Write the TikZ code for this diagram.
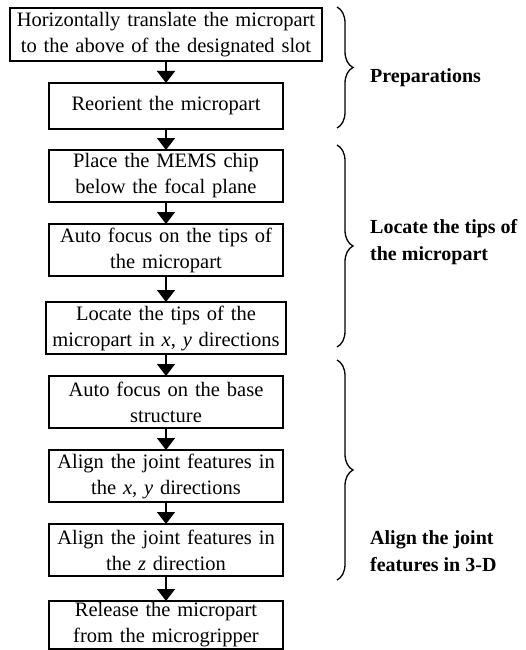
\documentclass[tikz,border=0pt]{standalone}
\usepackage{fontspec}
\setmainfont{Liberation Serif}
\usetikzlibrary{arrows.meta,positioning,decorations.pathreplacing}

\begin{document}
\begin{tikzpicture}[node distance=22pt, auto]
        \tikzstyle{block} = [rectangle, draw, line width=1.3pt, outer sep=0pt, text width=228pt, inner xsep=3pt, inner ysep=1pt, minimum height=52pt, align=center, font=\fontsize{20.5}{26}\selectfont]
        \tikzstyle{arrow} = [-{Triangle[width=18pt,length=12pt]}, line width=1.3pt]
        \tikzstyle{group} = [decorate, decoration={brace, amplitude=16pt}, line width=1.3pt]
        \tikzstyle{grouplabel} = [anchor=west, align=left, inner sep=0pt, font=\fontsize{20}{27}\selectfont\bfseries]

        \useasboundingbox (0,0) rectangle (525pt,-650pt);

        \node (translate) [block, text width=306pt, minimum height=53pt] at (166pt,-34.5pt) {Horizontally translate the micropart\\ to the above of the designated slot};
        \node (reorient) [block, minimum height=46pt, below=of translate] {Reorient the micropart};
        \node (place) [block, below=21pt of reorient] {Place the MEMS chip\\ below the focal plane};
        \node (focustips) [block, below=of place] {Auto focus on the tips of\\ the micropart};
        \node (locate) [block, text width=234pt, below=26pt of focustips] {Locate the tips of the\\ micropart in \textit{x}, \textit{y} directions};
        \node (focusbase) [block, below=of locate] {Auto focus on the base\\ structure};
        \node (alignxy) [block, below=of focusbase] {Align the joint features in\\ the \textit{x}, \textit{y} directions};
        \node (alignz) [block, below=of alignxy] {Align the joint features in\\ the \textit{z} direction};
        \node (release) [block, minimum height=48pt, below=25pt of alignz] {Release the micropart\\ from the microgripper};

        \draw[arrow] (translate) -- (reorient);
        \draw[arrow] (reorient) -- (place);
        \draw[arrow] (place) -- (focustips);
        \draw[arrow] (focustips) -- (locate);
        \draw[arrow] (locate) -- (focusbase);
        \draw[arrow] (focusbase) -- (alignxy);
        \draw[arrow] (alignxy) -- (alignz);
        \draw[arrow] (alignz) -- (release);

        % stage braces
        \draw[group] (337pt,-7pt) -- (337pt,-128pt);
        \draw[group] (337pt,-145pt) -- (337pt,-347pt);
        \draw[group] (337pt,-360pt) -- (337pt,-580pt);

        \node (prep) [grouplabel] at (370pt,-78pt) {Preparations};
        \node (tipslabel) [grouplabel] at (370pt,-242pt) {Locate the tips of\\ the micropart};
        \node (alignlabel) [grouplabel] at (370pt,-551pt) {Align the joint\\ features in 3-D};
    \end{tikzpicture}
\end{document}
